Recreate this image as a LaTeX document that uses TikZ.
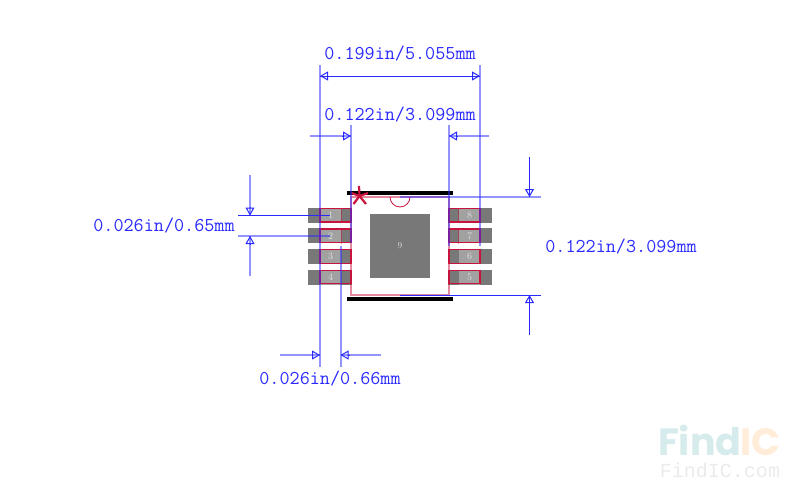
\documentclass[tikz,border=0pt]{standalone}
\usepackage{fontspec}
\usepackage{xcolor}
\usepackage{tikz}
\usetikzlibrary{arrows.meta}
\newfontfamily\markfont{Poppins}
\newfontfamily\siteword{Liberation Mono}
\definecolor{dimblue}{HTML}{2A2AFF}
\definecolor{padred}{HTML}{C8143C}

\begin{document}
\begin{tikzpicture}[
  x=1pt, y=-1pt,
  dimtext/.style={font=\ttfamily\fontsize{19.6}{19.6}\selectfont, text=dimblue, inner sep=0pt},
  dimline/.style={draw=dimblue, line width=1pt},
  dimwide/.style={draw=dimblue, line width=2pt, opacity=.5},
  dimarrow/.style={dimline, shorten <=31.5pt, -{Triangle[open, length=8pt, width=9pt]}},
  dimboth/.style={dimline, {Triangle[open, length=8pt, width=9pt]}-{Triangle[open, length=8pt, width=9pt]}},
  padbase/.style={rectangle, fill=black!53, minimum width=44pt, minimum height=15pt, inner sep=0pt},
  padcore/.style={rectangle, fill=black!37, minimum width=21pt, minimum height=15pt, inner sep=0pt,
                  text=black!12, font=\fontsize{10}{10}\selectfont},
  padedge/.style={rectangle, draw=padred, line width=1.2pt, minimum width=31pt, minimum height=13.5pt, inner sep=0pt},
  bar/.style={rectangle, fill=black, minimum width=106pt, minimum height=4.6pt, inner sep=0pt},
  outlinepart/.style={draw=padred, line width=1.2pt, opacity=.5}
]
\useasboundingbox (0,0) rectangle (800,496);

% Left pads
\node[padbase] (base1) at (330,215.2) {};
\node[padbase] (base2) at (330,235.8) {};
\node[padbase] (base3) at (330,256.5) {};
\node[padbase] (base4) at (330,277) {};
\node[padcore] (core1) at (330.5,215.2) {1};
\node[padcore] (core2) at (330.5,235.8) {2};
\node[padcore] (core3) at (330.5,256.5) {3};
\node[padcore] (core4) at (330.5,277) {4};
\node[padedge] (edge1) at (335.5,215.2) {};
\node[padedge] (edge2) at (335.5,235.8) {};
\node[padedge] (edge3) at (335.5,256.5) {};
\node[padedge] (edge4) at (335.5,277) {};
\draw[outlinepart] (core1.north east) -- (core1.south east);
\draw[outlinepart] (core2.north east) -- (core2.south east);

% Right pads
\node[padbase] (base8) at (469.5,215.2) {};
\node[padbase] (base7) at (469.5,235.8) {};
\node[padbase] (base6) at (469.5,256.5) {};
\node[padbase] (base5) at (469.5,277) {};
\node[padcore] (core8) at (469.5,215.2) {8};
\node[padcore] (core7) at (469.5,235.8) {7};
\node[padcore] (core6) at (469.5,256.5) {6};
\node[padcore] (core5) at (469.5,277) {5};
\node[padedge] (edge8) at (464.5,215.2) {};
\node[padedge] (edge7) at (464.5,235.8) {};
\node[padedge] (edge6) at (464.5,256.5) {};
\node[padedge] (edge5) at (464.5,277) {};
\draw[outlinepart] (core8.north west) -- (core8.south west);
\draw[outlinepart] (core7.north west) -- (core7.south west);

% Centre pad
\node[rectangle, fill=black!53, minimum width=60pt, minimum height=64pt, inner sep=0pt,
      text=black!15, font=\fontsize{9}{9}\selectfont] (core9) at (400,246) {9};

% Outline and pin mark
\draw[outlinepart] (351,197) rectangle (449,295);
\draw[draw=padred, line width=.8pt] (390,197) arc[start angle=180, end angle=360, x radius=10, y radius=-10];
\node[bar] (topbar) at (400,193) {};
\node[bar] (botbar) at (400,299) {};
\coordinate (star) at (359.5,196);
\coordinate (arm1) at (359,186);
\coordinate (arm2) at (368,193);
\coordinate (arm3) at (351.5,193);
\coordinate (arm4) at (353.5,204);
\coordinate (arm5) at (366,204);
\draw[padred, line width=2.2pt] (star) -- (arm1);
\draw[padred, line width=2.2pt] (star) -- (arm2);
\draw[padred, line width=2.2pt] (star) -- (arm3);
\draw[padred, line width=2.2pt] (star) -- (arm4);
\draw[padred, line width=2.2pt] (star) -- (arm5);

% Overall width
\coordinate (wa) at (320,65);
\coordinate (wb) at (320,367);
\coordinate (wc) at (480,65);
\coordinate (wd) at (480,246);
\coordinate (wl) at (320,76);
\coordinate (wr) at (480,76);
\draw[dimwide] (wa) -- (wb);
\draw[dimwide] (wc) -- (wd);
\draw[dimboth] (wl) -- (wr);
\draw[dimline] (wl) -- (wr);
\node[dimtext] (widthtext) at (400,54) {0.199in/5.055mm};

% Body width
\coordinate (ba) at (351,125);
\coordinate (bb) at (351,243);
\coordinate (bc) at (449,125);
\coordinate (bd) at (449,246);
\coordinate (bl) at (310,136);
\coordinate (bm) at (351,136);
\coordinate (bn) at (449,136);
\coordinate (br) at (489,136);
\draw[dimwide] (ba) -- (bb);
\draw[dimwide] (bc) -- (bd);
\draw[dimwide] (bl) -- (bm);
\draw[dimwide] (br) -- (bn);
\draw[dimarrow] (bl) -- (bm);
\draw[dimarrow] (br) -- (bn);
\node[dimtext] (bodytext) at (400,115) {0.122in/3.099mm};

% Pitch
\coordinate (pa) at (238,215.5);
\coordinate (pb) at (330,215.5);
\coordinate (pc) at (238,236);
\coordinate (pd) at (330,236);
\coordinate (pe) at (250,175);
\coordinate (pf) at (250,215.5);
\coordinate (pg) at (250,276);
\coordinate (ph) at (250,236);
\draw[dimline] (pa) -- (pb);
\draw[dimwide] (pc) -- (pd);
\draw[dimwide] (pe) -- (pf);
\draw[dimwide] (pg) -- (ph);
\draw[dimarrow] (pe) -- (pf);
\draw[dimarrow] (pg) -- (ph);
\node[dimtext] (pitchtext) at (164,226) {0.026in/0.65mm};

% Body height
\coordinate (ha) at (400,197);
\coordinate (hb) at (541,197);
\coordinate (hc) at (400,295);
\coordinate (hd) at (541,295);
\coordinate (he) at (529.5,157);
\coordinate (hf) at (529.5,197);
\coordinate (hg) at (529.5,335);
\coordinate (hh) at (529.5,295);
\draw[dimwide] (ha) -- (hb);
\draw[dimline] (hc) -- (hd);
\draw[dimline] (he) -- (hf);
\draw[dimline] (hg) -- (hh);
\draw[dimarrow] (he) -- (hf);
\draw[dimarrow] (hg) -- (hh);
\node[dimtext] (heighttext) at (621,247) {0.122in/3.099mm};

% Pad width
\coordinate (la) at (340.5,246);
\coordinate (lb) at (340.5,367);
\coordinate (lc) at (280,355);
\coordinate (ld) at (320,355);
\coordinate (le) at (381,355);
\coordinate (lf) at (340.5,355);
\draw[dimwide] (la) -- (lb);
\draw[dimwide] (lc) -- (ld);
\draw[dimwide] (le) -- (lf);
\draw[dimarrow] (lc) -- (ld);
\draw[dimarrow] (le) -- (lf);
\node[dimtext] (padtext) at (330,379) {0.026in/0.66mm};

% Watermark
\node[anchor=base west, inner sep=0pt, font=\markfont\bfseries\fontsize{38}{38}\selectfont, text=teal!16] (markfind) at (658,455) {Find};
\node[anchor=base east, inner sep=0pt, font=\markfont\bfseries\fontsize{38}{38}\selectfont, text=orange!15] (markic) at (781,455) {IC};
\node[anchor=base, inner sep=0pt, font=\siteword\fontsize{20}{20}\selectfont, text=black!8] (marksite) at (720,477) {FindIC.com};

\end{tikzpicture}
\end{document}
